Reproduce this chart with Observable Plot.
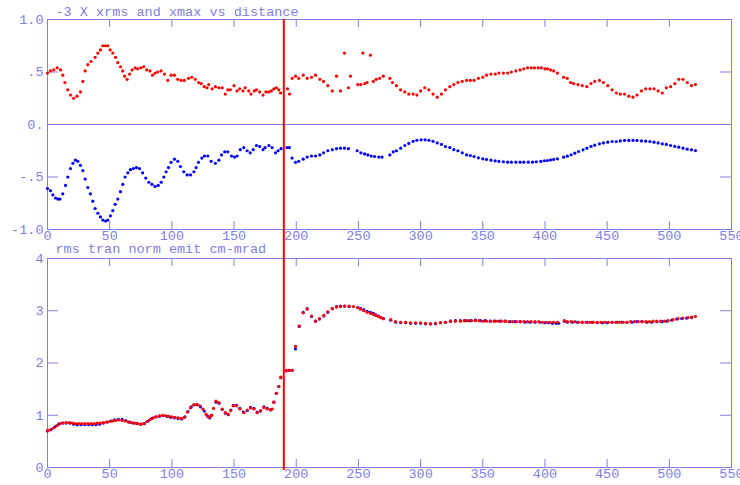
<!DOCTYPE html>
<html><head><meta charset="utf-8">
<script src="https://cdn.jsdelivr.net/npm/d3@7"></script>
<script src="https://cdn.jsdelivr.net/npm/@observablehq/plot@0.6"></script>
<style>
body{margin:0;background:#fff;}
#wrap{position:relative;width:740px;height:485px;overflow:hidden;background:#fff;}
#wrap svg{position:absolute;left:0;overflow:visible;}
</style></head><body>
<div id="wrap"></div>
<script>
// ---- labels ----
const topTitle = "-3 X xrms and xmax vs distance";
const botTitle = "rms tran norm emit cm-mrad";
const xTicks = [0,50,100,150,200,250,300,350,400,450,500,550];
const topYTicks = [-1,-0.5,0,0.5,1];
const topYLabels = ["-1.0","-.5","0.",".5","1.0"];
const botYTicks = [0,1,2,3,4];
const botYLabels = ["0","1","2","3","4"];
const markerDistance = [190];

// ---- top panel: -3*xrms (blue) and xmax (red) vs distance ----
const xmaxPts = [
[0,.49],[2.4,.51],[5,.52],[7.8,.54],[10.5,.52],[12.3,.47],[14,.40],[16.3,.33],[18.5,.28],[21,.25],
[23.7,.27],[26.5,.31],[28.4,.41],[30.3,.51],[32.4,.57],[35,.60],[38.3,.64],[40.5,.68],[42.6,.71],[44.5,.75],
[46.5,.75],[48.5,.75],[50.4,.71],[52.5,.68],[54.7,.64],[56.5,.59],[58.7,.55],[60.5,.51],[62,.46],[64,.43],
[66,.48],[68,.52],[70.5,.54],[72.5,.53],[75,.54],[77.3,.55],[79.7,.52],[82.4,.51],[84.5,.47],[86.5,.49],
[88.6,.50],[91.3,.51],[94,.48],[96.7,.42],[99.4,.47],[102,.47],[104.7,.43],[107.4,.42],[110,.42],[113.4,.44],
[116,.45],[118.8,.43],[121.5,.40],[123.6,.39],[126,.36],[128.3,.35],[129.6,.38],[132.4,.34],[135,.36],[137.8,.35],
[140.5,.35],[143,.29],[145,.33],[147,.33],[150,.37],[152.4,.32],[154.5,.34],[157.2,.32],[159,.35],[161.8,.32],
[163.6,.29],[166.3,.32],[168,.33],[170.6,.31],[173.3,.28],[175.7,.31],[177.9,.31],[180,.32],[182,.34],[184,.35],
[186,.33],[187.4,.30],[193,.34],[194.6,.29],[196.7,.44],[199.4,.46],[202,.44],[205.6,.47],[208.8,.44],[212.3,.45],
[215.5,.47],[219,.43],[222,.41],[225.4,.37],[229,.32],[232.4,.46],[235.6,.32],[238.8,.68],[242,.35],[243.6,.46],
[249.5,.38],[252,.38],[253.5,.68],[255,.39],[257,.40],[259.7,.66],[262,.41],[264.3,.43],[267,.44],[270,.46],
[275.3,.44],[277.4,.40],[280.6,.37],[283.9,.33],[287.3,.31],[290.5,.29],[294,.29],[297,.28],[300,.32],[303.3,.35],
[306.6,.33],[310,.29],[313.4,.26],[316.8,.29],[320,.33],[323.5,.36],[326.7,.38],[330,.40],[333.5,.41],[337,.42],
[340,.42],[343,.42],[346.5,.44],[350,.45],[353,.47],[356.6,.48],[360,.48],[363,.49],[366.6,.49],[370,.49],
[373,.50],[376.6,.51],[380,.52],[383,.53],[386,.54],[389,.54],[391.6,.54],[394.5,.54],[397,.54],[400,.53],
[402,.53],[404.5,.52],[407,.51],[410,.49],[415,.45],[418,.44],[420.6,.40],[423,.39],[426.6,.38],[430,.37],
[433.7,.36],[437,.39],[440,.41],[443.8,.42],[447,.40],[450.5,.37],[454,.33],[457.4,.30],[460.6,.29],[464,.29],
[467.4,.27],[470.8,.26],[474,.28],[477.6,.32],[481,.34],[484.4,.34],[487.7,.34],[491,.32],[494.4,.30],[497.6,.35],
[501,.36],[504.4,.39],[507.6,.43],[511,.43],[514.4,.40],[517.8,.37],[521,.38]
];
const xrmsPts = [
[0,-.61],[2.4,-.63],[4.3,-.67],[6.4,-.70],[8.3,-.71],[10,-.71],[12.3,-.66],[14.5,-.58],[16.3,-.50],[18.5,-.42],
[20.4,-.37],[22.5,-.34],[24.4,-.35],[26.5,-.39],[28.4,-.44],[30.3,-.52],[32.4,-.60],[34.5,-.66],[36.4,-.73],[38.3,-.80],
[40.5,-.845],[42.6,-.88],[44.5,-.91],[46.7,-.92],[48.5,-.91],[50.6,-.87],[52.5,-.82],[54.4,-.76],[56.5,-.71],[58.7,-.64],
[60.5,-.57],[62.4,-.50],[64.6,-.46],[66.7,-.43],[69,-.42],[71.5,-.41],[74,-.42],[76.5,-.46],[79,-.51],[81.5,-.55],
[84,-.57],[86.5,-.59],[89,-.58],[91.4,-.55],[93.5,-.50],[95.4,-.45],[97.3,-.41],[99.4,-.36],[102.1,-.33],[104.8,-.35],
[106.9,-.40],[109.6,-.45],[112.3,-.48],[115,-.48],[117.7,-.45],[119.5,-.41],[121.4,-.36],[124.1,-.32],[126.2,-.30],[128.9,-.30],
[131.6,-.35],[135,-.37],[137.8,-.34],[140,-.29],[142.5,-.26],[145,-.26],[148,-.30],[150.4,-.31],[152.5,-.30],[155,-.24],
[157.8,-.22],[160.5,-.25],[163,-.27],[165.4,-.24],[168,-.20],[170.6,-.21],[173.3,-.24],[175,-.22],[178,-.20],[180.6,-.22],
[183.3,-.27],[185.4,-.25],[187.8,-.23],[192.6,-.22],[194.5,-.22],[196.7,-.32],[199.4,-.36],[202,-.35],[205.6,-.33],[208.8,-.31],
[212.3,-.30],[215.5,-.30],[219,-.29],[222,-.27],[225.4,-.25],[229,-.24],[232.4,-.23],[235.6,-.225],[238.8,-.225],[242,-.23],
[249,-.25],[252,-.27],[255,-.28],[257.6,-.29],[260.3,-.30],[263,-.305],[266.4,-.31],[269,-.31],[275.3,-.29],[278,-.26],
[280.6,-.25],[284,-.225],[287.3,-.20],[290.5,-.18],[294,-.16],[297,-.15],[300.5,-.146],[303.7,-.146],[306.7,-.15],[310,-.16],
[313.4,-.175],[316.8,-.19],[320,-.21],[323.5,-.22],[326.7,-.24],[330,-.25],[333.5,-.27],[337,-.29],[340,-.295],[343,-.305],
[346.5,-.317],[350,-.327],[353,-.333],[356.6,-.34],[360,-.346],[363,-.352],[366.6,-.355],[370,-.359],[373,-.359],[376.6,-.359],
[380,-.359],[383,-.359],[386.6,-.359],[390,-.359],[393,-.355],[396.7,-.352],[399.5,-.345],[402,-.343],[404.5,-.337],[407,-.333],
[410,-.327],[415,-.311],[418,-.302],[421,-.289],[424,-.273],[427,-.257],[430.6,-.241],[433.7,-.225],[437,-.209],[440,-.197],
[443.8,-.184],[447,-.175],[450.5,-.168],[454,-.162],[457.4,-.162],[460.6,-.156],[464,-.152],[467.4,-.152],[470.8,-.152],[474,-.152],
[477.6,-.156],[481,-.159],[484.4,-.162],[487.7,-.168],[491,-.175],[494.4,-.184],[497.6,-.19],[501,-.20],[504.4,-.209],[507.6,-.216],
[511,-.225],[514.4,-.235],[517.8,-.241],[521,-.248]
];

// ---- bottom panel: rms transverse normalized emittance ----
const emitRedPts = [
[0,.71],[2.5,.72],[5,.76],[7.5,.80],[10,.84],[12.5,.85],[15,.86],[17.5,.86],[20,.85],[22.5,.84],
[25,.84],[27.5,.84],[30,.84],[32.5,.84],[35,.84],[37.5,.84],[40,.85],[42.5,.85],[45,.86],[47.5,.87],
[50,.88],[52.5,.89],[55,.90],[57.5,.91],[60,.90],[62.5,.89],[65,.87],[67.5,.86],[70,.85],[72.5,.84],
[75,.83],[77.5,.84],[80,.88],[82.5,.92],[85,.95],[87.5,.97],[90,.99],[92.5,1.00],[95,.99],[97.5,.98],
[100,.97],[102.5,.96],[105,.95],[107.5,.94],[110,.96],[112.5,1.06],[115,1.14],[117.5,1.20],[120,1.21],[122.5,1.18],
[125,1.12],[127.5,1.02],[129,.97],[130.5,.97],[132,1.0],[133.5,1.13],[135.5,1.27],[137.8,1.24],[140.5,1.12],[143,1.05],
[145.3,1.02],[147.2,1.09],[149.4,1.18],[152,1.18],[154.7,1.12],[158,1.05],[160.6,1.10],[163.3,1.14],[166,1.12],[168.6,1.05],
[171.3,1.09],[174,1.15],[176.6,1.12],[179.3,1.11],[180.7,1.12],[182,1.25],[184,1.42],[186,1.55],[187.6,1.73],[192,1.86],
[194,1.86],[196.8,1.86],[199.4,2.32],[202.4,2.71],[205.6,2.96],[208.8,3.03],[212.3,2.90],[215.5,2.80],[218.7,2.85],[222.2,2.91],
[225.4,2.98],[229,3.04],[232.4,3.07],[235.6,3.08],[239,3.09],[242.5,3.09],[246,3.08],[249.5,3.06],[251.7,3.03],[254.3,3.00],
[257,2.97],[259.7,2.95],[262,2.93],[264,2.91],[266,2.89],[268,2.87],[270,2.85],[276,2.83],[279.8,2.79],[284,2.78],
[288,2.78],[292,2.77],[296,2.77],[300,2.77],[304,2.76],[308,2.75],[312,2.76],[316,2.77],[320,2.78],[324,2.80],
[328,2.80],[332,2.80],[335,2.81],[338,2.81],[341,2.81],[344,2.81],[347,2.81],[350,2.80],[353,2.80],[356,2.80],
[359,2.80],[362,2.80],[365,2.80],[368,2.80],[371,2.79],[374,2.79],[377,2.79],[380,2.79],[383,2.79],[386,2.79],
[389,2.79],[392,2.79],[395,2.79],[398,2.78],[401,2.78],[404,2.78],[407,2.78],[410,2.78],[415.6,2.81],[418,2.79],
[421,2.79],[424,2.79],[427,2.78],[430,2.78],[433,2.78],[436,2.78],[439,2.78],[442,2.78],[445,2.78],[448,2.78],
[451,2.78],[454,2.78],[457,2.78],[460,2.78],[463,2.78],[466,2.78],[469,2.79],[472,2.79],[475,2.79],[478,2.79],
[481,2.79],[484,2.79],[487,2.80],[490,2.80],[493,2.80],[496,2.80],[499,2.81],[503,2.83],[507,2.85],[511,2.86],
[515,2.87],[518,2.88],[521,2.89]
];
const emitBluePts = [
[0,.70],[3,.73],[6,.78],[9,.83],[12,.85],[15,.85],[18,.85],[21,.83],[24,.82],[27,.82],
[30,.82],[33,.82],[36,.82],[39,.82],[42,.83],[45,.85],[48,.87],[51,.89],[54,.91],[57,.92],
[60,.92],[63,.90],[66,.87],[69,.85],[72,.84],[75,.83],[78,.84],[81,.89],[84,.94],[87,.97],
[90,.98],[93,.99],[96,.98],[99,.96],[102,.95],[105,.94],[108,.93],[110.5,.97],[113,1.07],[115.5,1.16],
[118,1.20],[120.5,1.20],[123,1.16],[126,1.08],[128.5,.99],[130.5,.95],[132,1.0],[135.5,1.25],[138,1.23],[140.5,1.11],
[143,1.04],[145.3,1.01],[147.5,1.10],[149.4,1.19],[152,1.19],[154.7,1.13],[157.5,1.06],[160.6,1.09],[163.3,1.15],[166,1.13],
[168.6,1.06],[171.3,1.08],[174,1.16],[176.6,1.13],[179.3,1.10],[182,1.25],[184,1.42],[186,1.55],[187.6,1.72],[192,1.85],
[194.5,1.86],[196.8,1.86],[199.4,2.27],[202.4,2.70],[205.6,2.97],[208.8,3.04],[212.3,2.89],[215.5,2.80],[218.7,2.84],[222.2,2.90],
[225.4,2.97],[229,3.04],[232.4,3.08],[235.6,3.09],[239,3.09],[242.5,3.08],[249.5,3.06],[251.7,3.04],[254.3,3.02],[257,2.99],
[259.7,2.97],[262,2.95],[264,2.92],[266,2.90],[268,2.87],[270,2.85],[276,2.82],[280,2.78],[284,2.77],[288,2.77],
[292,2.76],[296,2.76],[300,2.76],[304,2.75],[308,2.75],[312,2.75],[316,2.77],[320,2.78],[324,2.80],[328,2.81],
[332,2.81],[336,2.81],[340,2.81],[344,2.82],[348,2.81],[352,2.81],[356,2.80],[360,2.80],[364,2.80],[368,2.80],
[372,2.79],[376,2.79],[380,2.79],[384,2.78],[388,2.78],[392,2.78],[396,2.78],[400,2.77],[403,2.77],[406,2.76],
[409,2.76],[411,2.76],[415.6,2.80],[418,2.78],[422,2.78],[426,2.78],[430,2.78],[434,2.78],[438,2.78],[442,2.77],
[446,2.77],[450,2.77],[454,2.78],[458,2.78],[462,2.78],[466,2.78],[470,2.78],[474,2.79],[478,2.79],[482,2.78],
[486,2.78],[490,2.79],[494,2.79],[498,2.80],[502,2.82],[506,2.84],[510,2.85],[514,2.86],[518,2.87]
];

// ---- drawing ----
const C = "#8080e4";
const W = 740, ML = 47, MR = 9;
const FW = W - ML - MR;
const font = {fontFamily: "'Liberation Mono', 'DejaVu Sans Mono', monospace", fontSize: "13.5px", color: C, background: "transparent", overflow: "visible"};

function panel({height, marginTop, marginBottom, yDomain, yTicks, yLabels, minorY, zero, title, titleDy, series, ruleInsetTop, ruleInsetBottom}) {
  const FH = height - marginTop - marginBottom;
  const fmt = d => yLabels[yTicks.indexOf(d)];
  return Plot.plot({
    width: W, height, marginLeft: ML, marginRight: MR, marginTop, marginBottom,
    style: font,
    x: {domain: [0, 550]},
    y: {domain: yDomain},
    marks: [
      Plot.frame({stroke: C}),
      Plot.ruleY(zero, {y: d => d, stroke: C}),
      Plot.axisX(xTicks, {anchor: "bottom", tickSize: 0, tickPadding: 1, fill: C}),
      Plot.axisY(yTicks, {anchor: "left", tickSize: 0, tickPadding: 4, tickFormat: fmt, fill: C}),
      Plot.tickX(xTicks, {x: d => d, stroke: C, insetBottom: FH - 8}),
      Plot.tickX(xTicks, {x: d => d, stroke: C, insetTop: FH - 8}),
      Plot.tickY(minorY, {y: d => d, stroke: C, insetRight: FW - 11}),
      Plot.tickY(minorY, {y: d => d, stroke: C, insetLeft: FW - 11}),
      ...series.map(s => Plot.dot(s.data, {x: d => d[0], y: d => d[1], r: 1.6, fill: s.color, stroke: "none"})),
      Plot.ruleX(markerDistance, {x: d => d, stroke: "#ff0000", strokeWidth: 2, insetTop: ruleInsetTop, insetBottom: ruleInsetBottom}),
      Plot.text([title], {text: d => d, frameAnchor: "top-left", dx: 8, dy: titleDy, lineAnchor: "bottom", fill: C, textAnchor: "start"})
    ]
  });
}

const topPanel = panel({
  height: 240, marginTop: 19, marginBottom: 11,
  yDomain: [-1, 1], yTicks: topYTicks, yLabels: topYLabels, minorY: [-0.5, 0.5], zero: [0],
  title: topTitle, titleDy: -4,
  series: [{data: xrmsPts, color: "#0000ff"}, {data: xmaxPts, color: "#ff0000"}],
  ruleInsetTop: 0, ruleInsetBottom: 0
});
const botPanel = panel({
  height: 245, marginTop: 18, marginBottom: 18,
  yDomain: [0, 4], yTicks: botYTicks, yLabels: botYLabels, minorY: [1, 2, 3], zero: [],
  title: botTitle, titleDy: -6,
  series: [{data: emitBluePts, color: "#0000ff"}, {data: emitRedPts, color: "#ff0000"}],
  ruleInsetTop: -29, ruleInsetBottom: -3
});
topPanel.style.top = "0px";
botPanel.style.top = "240px";
const wrap = document.getElementById("wrap");
wrap.appendChild(topPanel);
wrap.appendChild(botPanel);
</script>
</body></html>
